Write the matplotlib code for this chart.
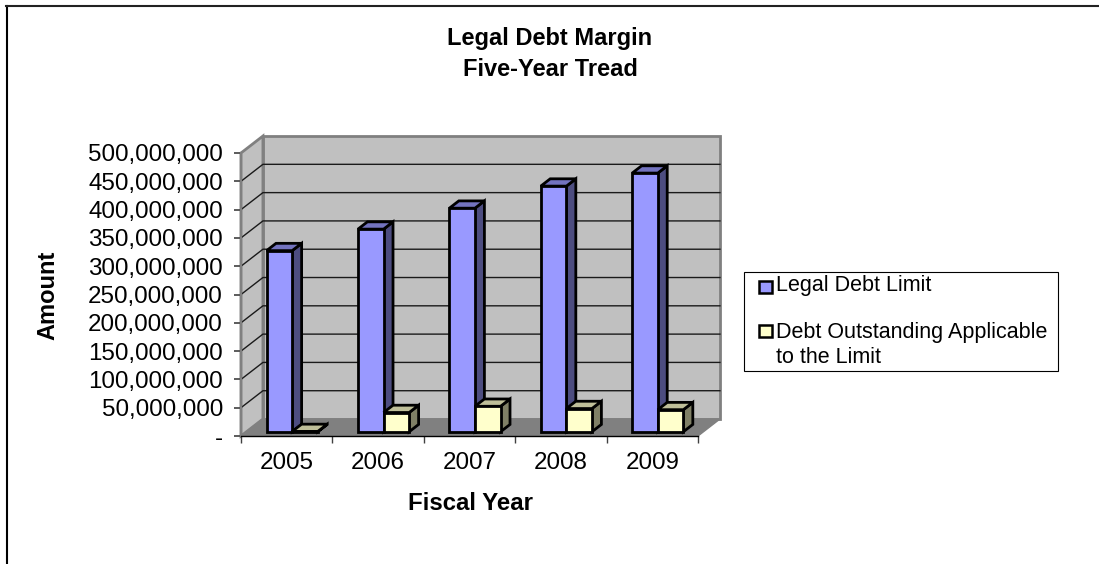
import matplotlib
matplotlib.use('Agg')
import matplotlib.pyplot as plt
from matplotlib.lines import Line2D
from matplotlib.patches import Rectangle
from matplotlib.ticker import FuncFormatter

plt.rcParams['font.family'] = ['Liberation Sans', 'DejaVu Sans']

years = ['2005', '2006', '2007', '2008', '2009']
debt_limit = [320e6, 358e6, 395e6, 434e6, 457e6]
debt_outstanding = [0.5e6, 34e6, 45e6, 41e6, 39e6]
series_names = ['Legal Debt Limit', 'Debt Outstanding Applicable\nto the Limit']

W, H = 1099, 564
# oblique projection, depth 1 is the back wall
DX = 0.24
DY = 30e6
YMAX = 500e6
bar_w = 0.28
bar_d0 = 0.25
bar_d1 = 0.68


def proj(x, y, d):
    return x + d * DX, y + d * DY


def face(ax, pts, color, ec='k', lw=0, z=1):
    xs = [p[0] for p in pts]
    ys = [p[1] for p in pts]
    ax.fill(xs, ys, facecolor=color, edgecolor=ec, lw=lw, zorder=z, clip_on=False, joinstyle='miter')


def bar3d(ax, x0, val, front, top, side, z):
    x1 = x0 + bar_w
    a = proj(x0, 0, bar_d0)
    b = proj(x1, 0, bar_d0)
    c = proj(x1, val, bar_d0)
    d = proj(x0, val, bar_d0)
    e = proj(x1, 0, bar_d1)
    f = proj(x1, val, bar_d1)
    g = proj(x0, val, bar_d1)
    face(ax, [b, e, f, c], side, lw=2, z=z)
    face(ax, [d, c, f, g], top, lw=2, z=z)
    face(ax, [a, b, c, d], front, lw=2, z=z)


fig = plt.figure(figsize=(W / 100, H / 100), dpi=100)

# chart frame, only the left and top edges show
fig.add_artist(Line2D([6.5 / W, 6.5 / W], [0, 1 - 5.5 / H], color='k', lw=1.5))
fig.add_artist(Line2D([5.5 / W, 1], [1 - 5.5 / H, 1 - 5.5 / H], color='#222222', lw=1.5))

ax = fig.add_axes([241 / W, 1 - 436 / H, (698 - 241) / W, (436 - 153) / H])
ax.set_xlim(-0.5, 4.5)
ax.set_ylim(0, YMAX)
ax.patch.set_visible(False)
for s in ['top', 'right']:
    ax.spines[s].set_visible(False)
ax.spines['left'].set_color('#808080')
ax.spines['left'].set_linewidth(1.6)
ax.spines['left'].set_zorder(4)
ax.spines['bottom'].set_color('k')
ax.spines['bottom'].set_linewidth(1)
ax.spines['bottom'].set_zorder(4)

L, R = -0.5, 4.5
# walls and floor
face(ax, [proj(L, 0, 1), proj(R, 0, 1), proj(R, YMAX, 1), proj(L, YMAX, 1)], '#c0c0c0', ec='#808080', lw=2, z=1)
face(ax, [proj(L, 0, 0), proj(L, 0, 1), proj(L, YMAX, 1), proj(L, YMAX, 0)], '#c0c0c0', ec='#808080', lw=2, z=1)
face(ax, [proj(L, 0, 0), proj(R, 0, 0), proj(R, 0, 1), proj(L, 0, 1)], '#808080', ec='#808080', lw=1, z=1.5)

# gridlines run across the side and back walls
ticks = list(range(0, 550000000, 50000000))
for t in ticks[1:-1]:
    p0 = proj(L, t, 0)
    p1 = proj(L, t, 1)
    p2 = proj(R, t, 1)
    ax.plot([p0[0], p1[0], p2[0]], [p0[1], p1[1], p2[1]], color='#1a1a1a', lw=1, zorder=1.6, clip_on=False)

for i in range(len(years)):
    x0 = i - bar_w
    bar3d(ax, x0, debt_limit[i], '#9999ff', '#7373bf', '#4d4d80', 3 + i)
    bar3d(ax, i, debt_outstanding[i], '#ffffcc', '#bfbf99', '#808066', 3.5 + i)

ax.set_yticks(ticks)
ax.yaxis.set_major_formatter(FuncFormatter(lambda v, p: '-' if v == 0 else '{:,.0f}'.format(v)))
ax.tick_params(axis='y', labelsize=17.4, length=5, width=1.2, color='#404040', pad=8)
ax.set_xticks([i - 0.5 for i in range(6)])
ax.set_xticklabels([])
ax.tick_params(axis='x', length=5, width=1, color='#404040')
for i, y in enumerate(years):
    ax.annotate(y, (i, 0), xytext=(0, -19.5), textcoords='offset points', ha='center', va='center', fontsize=17.4)

fig.text(550 / W, 1 - 38 / H, 'Legal Debt Margin', ha='center', va='center', fontsize=17, fontweight='bold')
fig.text(550 / W, 1 - 69 / H, 'Five-Year Tread', ha='center', va='center', fontsize=17, fontweight='bold')
fig.text(470 / W, 1 - 504 / H, 'Fiscal Year', ha='center', va='center', fontsize=17.3, fontweight='bold')
fig.text(47.5 / W, 1 - 295 / H, 'Amount', ha='center', va='center', rotation=90, fontsize=17, fontweight='bold')

# legend box
fig.add_artist(Rectangle((744 / W, 1 - 371 / H), (1058 - 744) / W, (371 - 272) / H, transform=fig.transFigure,
                         fc='w', ec='k', lw=0.8))
for y, c in [(286.5, '#9999ff'), (331, '#ffffcc')]:
    fig.add_artist(Rectangle((758.5 / W, 1 - (y + 6) / H), 13 / W, 12 / H, transform=fig.transFigure,
                             fc=c, ec='k', lw=1.8))
fig.text(776 / W, 1 - 286 / H, series_names[0], ha='left', va='center', fontsize=15.5)
fig.text(776 / W, 1 - 345 / H, series_names[1], ha='left', va='center', fontsize=15.5, linespacing=1.28)

fig.savefig('out.png', dpi=100)
